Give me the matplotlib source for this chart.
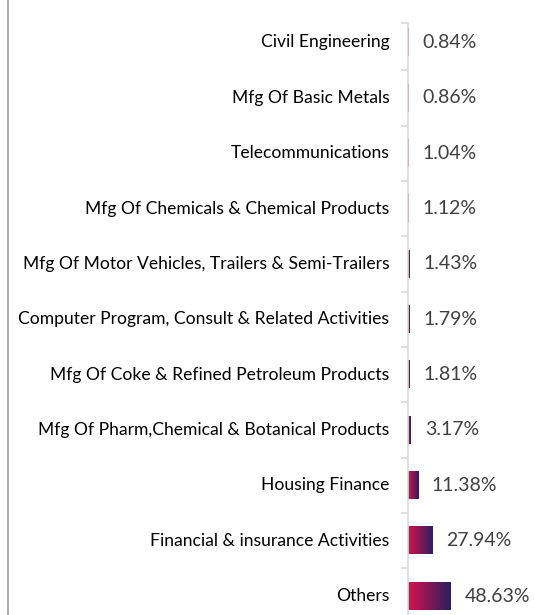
import numpy as np
import matplotlib
matplotlib.use("Agg")
import matplotlib.pyplot as plt
from matplotlib.colors import LinearSegmentedColormap
from matplotlib.lines import Line2D

categories = [
    "Civil Engineering",
    "Mfg Of Basic Metals",
    "Telecommunications",
    "Mfg Of Chemicals & Chemical Products",
    "Mfg Of Motor Vehicles, Trailers & Semi-Trailers",
    "Computer Program, Consult & Related Activities",
    "Mfg Of Coke & Refined Petroleum Products",
    "Mfg Of Pharm,Chemical & Botanical Products",
    "Housing Finance",
    "Financial & insurance Activities",
    "Others",
]
values = [0.84, 0.86, 1.04, 1.12, 1.43, 1.79, 1.81, 3.17, 11.38, 27.94, 48.63]
value_labels = ["0.84%", "0.86%", "1.04%", "1.12%", "1.43%", "1.79%", "1.81%",
                "3.17%", "11.38%", "27.94%", "48.63%"]

plt.rcParams['font.family'] = ['Lato', 'DejaVu Sans']

W, H = 535, 615
fig = plt.figure(figsize=(W / 100, H / 100), dpi=100)
ax = fig.add_axes([408 / W, 0, 127 / W, 592 / H])

n = len(categories)
ypos = np.arange(n)[::-1]  # first category at top

cmap = LinearSegmentedColormap.from_list("g", ["#d8124f", "#2a1f5f"])
grad = np.linspace(0, 1, 256).reshape(1, -1)
bh = 0.5
for y, v, lab in zip(ypos, values, value_labels):
    ax.imshow(grad, cmap=cmap, aspect='auto', extent=[0, v, y - bh / 2, y + bh / 2],
              interpolation='bilinear', zorder=2)
    ax.annotate(lab, xy=(v, y), xytext=(10, 0), textcoords='offset points',
                ha='left', va='center', fontsize=14, color='#404040')

ax.set_ylim(-0.343, n - 1 + 0.352)
ax.set_xlim(0, 144)

for s in ['top', 'right', 'bottom']:
    ax.spines[s].set_visible(False)
ax.spines['left'].set_color('#d9d9d9')
ax.spines['left'].set_linewidth(1.2)
ax.set_xticks([])

bounds = [i + 0.5 for i in range(n - 1)] + [n - 1 + 0.352]
ax.set_yticks(bounds)
ax.set_yticklabels([])
ax.tick_params(axis='y', length=5, width=1.2, color='#d9d9d9', direction='out')

for y, c in zip(ypos, categories):
    ax.annotate(c, xy=(0, y), xytext=(-13.5, 0), textcoords='offset points',
                ha='right', va='center', fontsize=12.6, color='#000000',
                annotation_clip=False)

fig.add_artist(Line2D([7.5 / W, 7.5 / W], [0, 1], color='#a6a6a6', linewidth=1.3))

fig.savefig("out.png", dpi=100)
